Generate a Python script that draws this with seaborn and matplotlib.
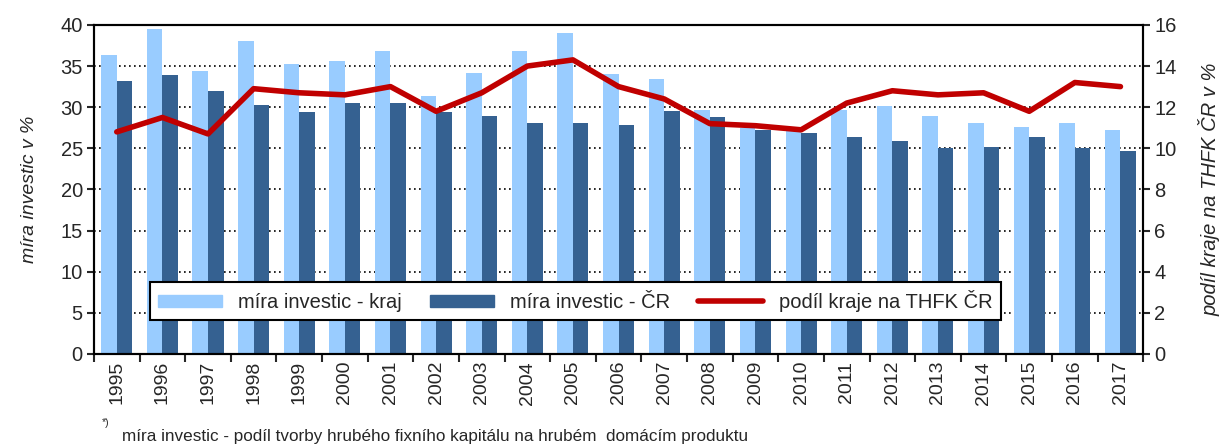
import numpy as np
import pandas as pd
import matplotlib
matplotlib.use("Agg")
import matplotlib.pyplot as plt
from matplotlib.patches import Patch
from matplotlib.lines import Line2D
import seaborn as sns

years = [str(y) for y in range(1995, 2018)]
kraj = [36.4, 39.5, 34.4, 38.1, 35.2, 35.6, 36.8, 31.3, 34.2, 36.8, 39.0, 34.0,
        33.4, 29.7, 27.5, 27.3, 29.7, 30.1, 28.9, 28.1, 27.6, 28.1, 27.2]
cr = [33.2, 33.9, 32.0, 30.3, 29.4, 30.5, 30.5, 29.4, 28.9, 28.1, 28.1, 27.8,
      29.5, 28.8, 27.2, 26.9, 26.4, 25.9, 25.0, 25.2, 26.4, 25.0, 24.7]
podil = [10.8, 11.5, 10.7, 12.9, 12.7, 12.6, 13.0, 11.8, 12.7, 14.0, 14.3, 13.0,
         12.4, 11.2, 11.1, 10.9, 12.2, 12.8, 12.6, 12.7, 11.8, 13.2, 13.0]

lab_kraj = "míra investic - kraj"
lab_cr = "míra investic - ČR"
lab_podil = "podíl kraje na THFK ČR"
c_light = "#99CCFF"
c_dark = "#356191"
c_red = "#C00000"

df = pd.DataFrame({
    "rok": years * 2,
    "hodnota": kraj + cr,
    "serie": [lab_kraj] * len(years) + [lab_cr] * len(years),
})

sns.set_style("white")
plt.rcParams["font.family"] = ["Liberation Sans", "DejaVu Sans"]

fig = plt.figure(figsize=(12.28, 4.45), dpi=100)
ax = fig.add_axes([0.0765, 0.2045, 0.8545, 0.7395])

sns.barplot(data=df, x="rok", y="hodnota", hue="serie", ax=ax,
            palette=[c_light, c_dark], width=0.68, gap=0, saturation=1,
            edgecolor="none", legend=False, zorder=2)

ax.set_ylim(0, 40)
ax.set_yticks(range(0, 41, 5))
ax.set_xlim(-0.5, len(years) - 0.5)
ax.yaxis.grid(True, color="black", linestyle=(0, (1, 2)), linewidth=1.2)
ax.set_axisbelow(True)
ax.set_xlabel("")
ax.set_ylabel("míra investic v %", fontsize=14, style="italic", labelpad=16)
ax.tick_params(axis="y", labelsize=14.5, direction="out", length=5, width=1.5,
               left=True, pad=3)
ax.set_xticks(range(len(years)))
ax.set_xticklabels(years, rotation=90, fontsize=14)
ax.tick_params(axis="x", which="major", length=0, pad=5)
ax.set_xticks(np.arange(-0.5, len(years), 1), minor=True)
ax.tick_params(axis="x", which="minor", length=6, width=1.5, direction="out",
               bottom=True)
for s in ax.spines.values():
    s.set_color("black")
    s.set_linewidth(1.5)

ax2 = ax.twinx()
sns.lineplot(x=np.arange(len(years)), y=podil, ax=ax2, color=c_red,
             linewidth=4, zorder=3)
ax2.set_ylim(0, 16)
ax2.set_yticks(range(0, 17, 2))
ax2.tick_params(axis="y", labelsize=14.5, direction="out", length=5, width=1.5,
                right=True, pad=3)
ax2.set_ylabel("podíl kraje na THFK ČR v %", fontsize=14.5, style="italic",
               labelpad=16)
for s in ax2.spines.values():
    s.set_color("black")
    s.set_linewidth(1.5)

handles = [Patch(color=c_light, label=lab_kraj),
           Patch(color=c_dark, label=lab_cr),
           Line2D([0], [0], color=c_red, linewidth=4, label=lab_podil)]
leg = ax2.legend(handles=handles, ncol=3, loc="lower left",
                 bbox_to_anchor=(0.053, 0.103, 0.811, 0.14), mode="expand",
                 fontsize=14.5, frameon=True, fancybox=False, framealpha=1,
                 edgecolor="black", handlelength=3.2, handleheight=0.6,
                 borderaxespad=0, columnspacing=1.2)
leg.get_frame().set_linewidth(1.5)

fig.text(0.083, 0.042, "*)", fontsize=7.5)
fig.text(0.0995, 0.010, "míra investic - podíl tvorby hrubého fixního kapitálu na hrubém  domácím produktu",
         fontsize=12.3)

fig.savefig("out.png", dpi=100)
